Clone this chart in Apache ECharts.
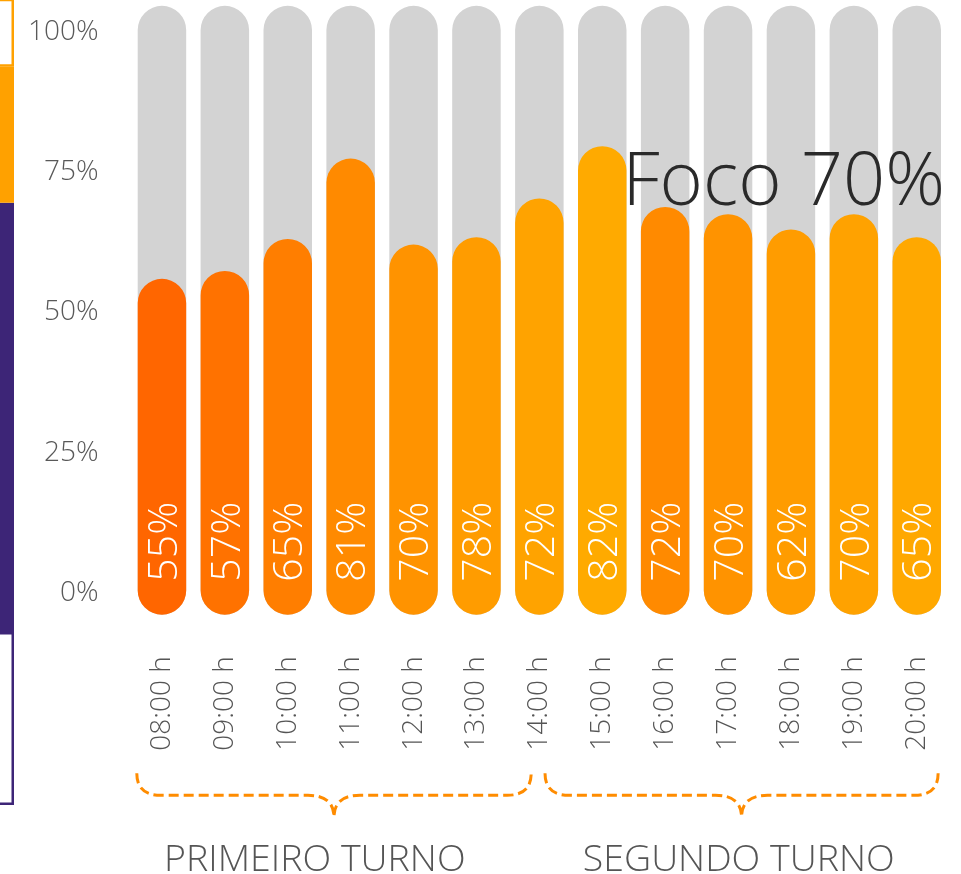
<!DOCTYPE html>
<html>
<head>
<meta charset="utf-8">
<script src="https://cdn.jsdelivr.net/npm/echarts@6/dist/echarts.min.js"></script>
<style>
html,body{margin:0;padding:0;background:#fff;}
#chart{width:961px;height:874px;}
</style>
</head>
<body>
<div id="chart"></div>
<script>
// ---- data ----
const hours = ['08:00 h','09:00 h','10:00 h','11:00 h','12:00 h','13:00 h','14:00 h','15:00 h','16:00 h','17:00 h','18:00 h','19:00 h','20:00 h'];
const barTops = [56.0, 57.4, 63.1, 77.4, 62.1, 63.4, 70.3, 79.6, 68.8, 67.5, 64.8, 67.5, 63.4];
const barLabels = ['55%','57%','65%','81%','70%','78%','72%','82%','72%','70%','62%','70%','65%'];
const barColors = ['#FF6600','#FF7200','#FF7E00','#FF8A00','#FF9300','#FF9C00','#FFA300','#FFAA00','#FF8A00','#FF9300','#FF9C00','#FFA200','#FFA800'];
const trackTop = 104.6;
const trackBottom = -3.8;
const groupNames = ['PRIMEIRO TURNO','SEGUNDO TURNO'];
const sideSegments = [21.5, 53.3, 16.9, 12];
const title = 'Foco 70%';

// ---- layout helpers ----
const FONT = '"Open Sans", "Noto Sans", sans-serif';
const braceRanges = [[-0.4, 5.87], [6.09, 12.34]];
const groupLabelPos = [2.43, 9.17];

const chart = echarts.init(document.getElementById('chart'), null, {renderer: 'canvas'});

function pill(params, api, color, label) {
  const i = api.value(0);
  const v = api.value(1);
  const top = api.coord([i, v]);
  const bot = api.coord([i, trackBottom]);
  const w = api.size([1, 0])[0] * 0.771;
  const children = [{
    type: 'rect',
    shape: {x: top[0] - w / 2, y: top[1], width: w, height: bot[1] - top[1], r: w / 2},
    style: {fill: color}
  }];
  if (label) {
    children.push({
      type: 'text',
      x: top[0] + 3,
      y: bot[1] - 33,
      rotation: Math.PI / 2,
      style: {text: label, fill: '#ffffff', font: '300 41px ' + FONT, align: 'left', verticalAlign: 'middle'}
    });
  }
  return {type: 'group', children: children};
}

function brace(params, api) {
  const k = params.dataIndex;
  const a = api.coord([0, 0]);
  const b = api.coord([1, 0]);
  const step = b[0] - a[0];
  const px = f => a[0] + f * step;
  const x0 = px(api.value(2)), x1 = px(api.value(3)), xm = (x0 + x1) / 2;
  const base = a[1];
  const yTop = base + 180, yLine = base + 202, yTip = base + 224;
  const d = `M${x0} ${yTop} Q${x0} ${yLine} ${x0 + 24} ${yLine} L${xm - 26} ${yLine} Q${xm} ${yLine} ${xm} ${yTip} Q${xm} ${yLine} ${xm + 26} ${yLine} L${x1 - 24} ${yLine} Q${x1} ${yLine} ${x1} ${yTop}`;
  return {
    type: 'group',
    children: [
      {type: 'path', shape: {pathData: d}, style: {fill: 'none', stroke: '#FF8C00', lineWidth: 3, lineDash: [10, 5]}},
      {type: 'text', x: px(groupLabelPos[k]), y: base + 267,
        style: {text: groupNames[k], font: '300 37.5px ' + FONT, fill: '#555555', align: 'center', verticalAlign: 'middle'}}
    ]
  };
}

const option = {
  animation: false,
  title: {
    text: title, right: 16, top: 147, padding: 0,
    textStyle: {fontFamily: FONT, fontWeight: 300, fontSize: 74, color: '#2a2a2a'}
  },
  grid: [
    {left: 130.5, right: 12.8, top: 31.7, bottom: 280.7, outerBoundsMode: 'none'},
    {left: -36, right: 947, top: 0, bottom: 69, outerBoundsMode: 'none'}
  ],
  xAxis: [
    {
      type: 'category', data: hours, gridIndex: 0,
      axisLine: {show: false}, axisTick: {show: false},
      axisLabel: {rotate: 90, margin: 63, fontFamily: FONT, fontWeight: 300, fontSize: 28, color: '#555555'}
    },
    {type: 'category', data: ['a'], gridIndex: 1, show: false}
  ],
  yAxis: [
    {
      type: 'value', min: 0, max: 100, interval: 25, gridIndex: 0,
      axisLine: {show: false}, axisTick: {show: false}, splitLine: {show: false},
      axisLabel: {formatter: '{value}%', margin: 32, fontFamily: FONT, fontWeight: 300, fontSize: 28, color: '#595959'}
    },
    {type: 'value', min: 0, max: 100, gridIndex: 1, show: false}
  ],
  series: [
    {
      type: 'custom', xAxisIndex: 0, yAxisIndex: 0, clip: false, silent: true,
      data: hours.map((h, i) => [i, trackTop]),
      renderItem: (params, api) => pill(params, api, '#D3D3D3', null)
    },
    {
      type: 'custom', xAxisIndex: 0, yAxisIndex: 0, clip: false, silent: true,
      data: hours.map((h, i) => [i, barTops[i]]),
      renderItem: (params, api) => pill(params, api, barColors[params.dataIndex], barLabels[params.dataIndex])
    },
    {
      type: 'custom', xAxisIndex: 0, yAxisIndex: 0, clip: false, silent: true,
      encode: {x: 0, y: 1},
      data: braceRanges.map(r => [0, 0, r[0], r[1]]),
      renderItem: brace
    },
    {type: 'bar', xAxisIndex: 1, yAxisIndex: 1, stack: 's', barWidth: '100%', silent: true, clip: true,
      data: [sideSegments[0]], itemStyle: {color: '#ffffff', borderColor: '#3D2577', borderWidth: 2.5}},
    {type: 'bar', xAxisIndex: 1, yAxisIndex: 1, stack: 's', barWidth: '100%', silent: true, clip: true,
      data: [sideSegments[1]], itemStyle: {color: '#3D2577'}},
    {type: 'bar', xAxisIndex: 1, yAxisIndex: 1, stack: 's', barWidth: '100%', silent: true, clip: true,
      data: [sideSegments[2]], itemStyle: {color: '#FFA100'}},
    {type: 'bar', xAxisIndex: 1, yAxisIndex: 1, stack: 's', barWidth: '100%', silent: true, clip: true,
      data: [sideSegments[3]], itemStyle: {color: '#ffffff', borderColor: '#FFA100', borderWidth: 2.5}}
  ]
};
chart.setOption(option);
</script>
</body>
</html>
